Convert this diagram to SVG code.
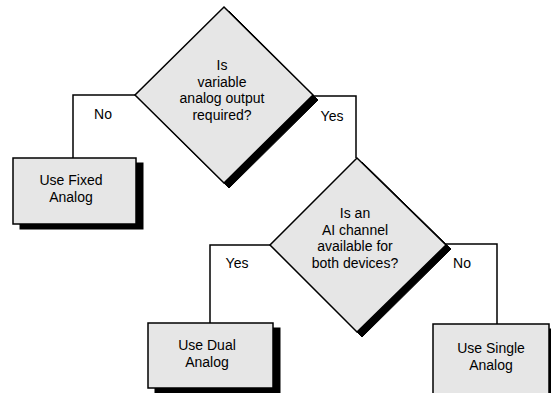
<svg xmlns="http://www.w3.org/2000/svg" width="551" height="393" viewBox="0 0 551 393">
<style>
.shadow{fill:#000;stroke:#000;stroke-width:1}
.node{fill:#e6e6e6;stroke:#000;stroke-width:1.5}
.conn{fill:none;stroke:#000;stroke-width:1.5}
text{font-family:"Liberation Sans",Arial,sans-serif;font-size:14px;fill:#000;text-anchor:middle}
</style>
<rect width="551" height="393" fill="#fff"/>
<g id="connectors">
<polyline class="conn" points="135,95 73,95 73,158"/>
<polyline class="conn" points="313,96 356,96 356,158"/>
<polyline class="conn" points="270,245 210,245 210,323"/>
<polyline class="conn" points="446,244 497,244 497,324"/>
<text x="103" y="119">No</text>
<text x="332" y="121">Yes</text>
<text x="237" y="268">Yes</text>
<text x="462" y="268">No</text>
</g>
<g id="decision1">
<polygon class="shadow" points="229,11 318,100 229,188 140,100"/>
<polygon class="node" points="224,7 313,95 224,183 135,95"/>
<text x="222" y="70">Is</text>
<text x="222" y="87">variable</text>
<text x="222" y="103">analog output</text>
<text x="222" y="120">required?</text>
</g>
<g id="decision2">
<polygon class="shadow" points="362,162 451,249 362,337 275,249"/>
<polygon class="node" points="357,158 446,245 357,332 270,245"/>
<text x="355" y="218">Is an</text>
<text x="355" y="235">AI channel</text>
<text x="355" y="251">available for</text>
<text x="355" y="268">both devices?</text>
</g>
<g id="fixed">
<rect class="shadow" x="20" y="163" width="123" height="66"/>
<rect class="node" x="13" y="158" width="123" height="66"/>
<text x="71" y="185">Use Fixed</text>
<text x="71" y="202">Analog</text>
</g>
<g id="dual">
<rect class="shadow" x="155" y="328" width="125" height="65"/>
<rect class="node" x="148" y="323" width="125" height="65"/>
<text x="207" y="350">Use Dual</text>
<text x="207" y="367">Analog</text>
</g>
<g id="single">
<rect class="shadow" x="440" y="329" width="116" height="70"/>
<rect class="node" x="433" y="324" width="116" height="70"/>
<text x="491" y="353">Use Single</text>
<text x="491" y="370">Analog</text>
</g>
</svg>
